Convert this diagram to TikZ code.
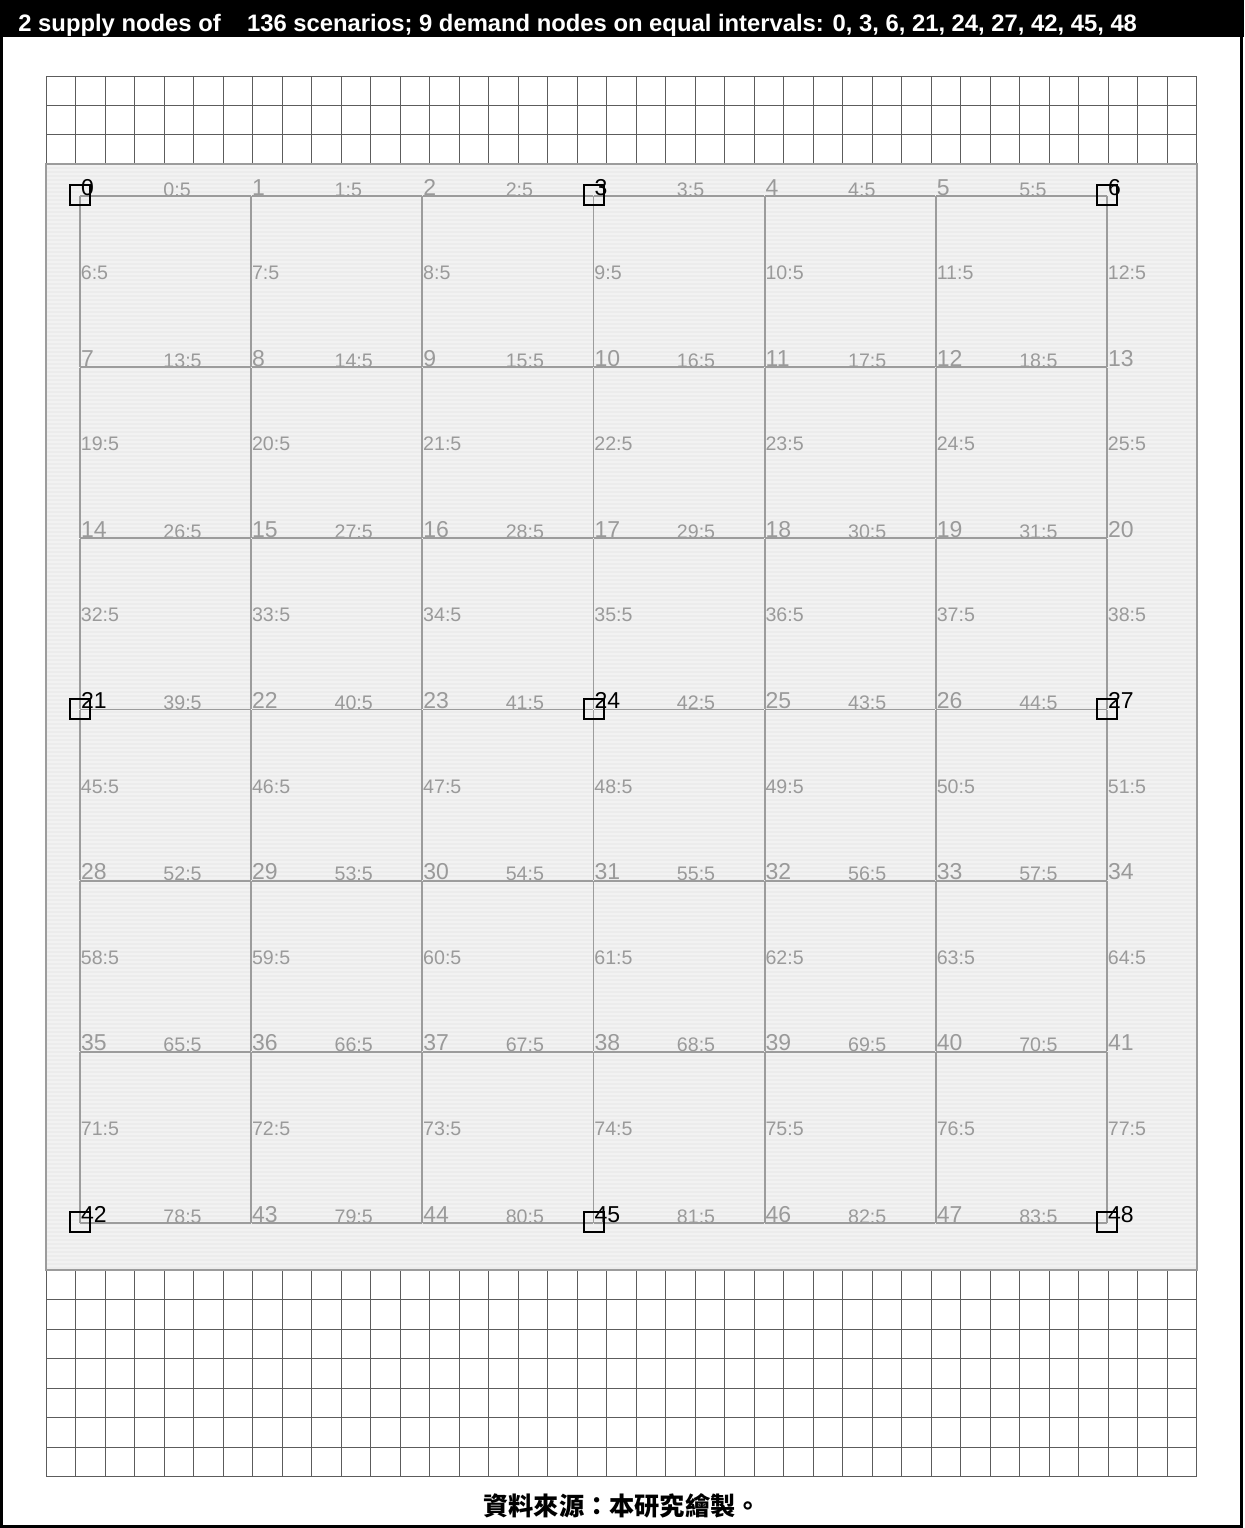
\documentclass[tikz,border=0pt]{standalone}
\usepackage{fontspec}
\setmainfont{Liberation Sans}
\newfontfamily\cjkfont{Noto Sans CJK TC}
\usepackage{tikz}
\usetikzlibrary{positioning}
\definecolor{netgray}{HTML}{9C9C9C}
\definecolor{lblgray}{HTML}{9A9A9A}
\definecolor{gridink}{HTML}{5C5C5C}
\definecolor{panelfill}{HTML}{ECECEC}
\definecolor{panelstripe}{HTML}{F2F2F2}

\begin{document}
\begin{tikzpicture}[
  x=0.5pt, y=-0.5pt,
  netpt/.style={inner sep=0pt, minimum size=0pt},
  nodenum/.style={anchor=base west, inner sep=0pt, xshift=0.3pt, yshift=0.5pt,
    font=\fontsize{11.5}{11.5}\selectfont, text=lblgray},
  demandnum/.style={nodenum, text=black},
  demandbox/.style={draw=black, line width=1pt, minimum size=10pt, inner sep=0pt},
  link/.style={draw=netgray, line width=0.9pt},
  linklbl/.style={anchor=base west, inner sep=0pt, font=\fontsize{9.8}{9.8}\selectfont, text=lblgray},
  gridline/.style={draw=gridink, line width=0.5pt},
  ]
  \useasboundingbox (0,0) rectangle (1244,1528);

  % header bar and frame
  \fill[black] (0,0) rectangle (1244,37);
  \node[anchor=base west, inner sep=0pt, text=white,
    font=\bfseries\fontsize{11.9}{11.9}\selectfont] (title) at (18,31)
    {2 supply nodes of \ \ \ 136 scenarios; 9 demand nodes on equal intervals: 0, 3, 6, 21, 24, 27, 42, 45, 48};
  \draw[line width=1.5pt] (1.5,37) -- (1.5,1526.5) -- (1241.5,1526.5) -- (1241.5,37);

  % background grid, above and below the panel
  \foreach \i in {0,...,39}
    \draw[gridline] ({46+29.51*\i},76) -- ({46+29.51*\i},164)
                    ({46+29.51*\i},1270) -- ({46+29.51*\i},1476.5);
  \foreach \j in {0,...,3}
    \draw[gridline] (46,{76+29.33*\j}) -- (1197,{76+29.33*\j});
  \foreach \j in {0,...,7}
    \draw[gridline] (46,{1270+29.5*\j}) -- (1197,{1270+29.5*\j});

  % panel
  \fill[panelfill] (46,164) rectangle (1197,1270);
  \foreach \y in {166,170,...,1268}
    \draw[panelstripe, line width=1pt] (47,\y) -- (1196,\y);
  \draw[netgray, line width=0.8pt] (46,164) rectangle (1197,1270);

  % network nodes
  \foreach \r in {0,...,6}
    \foreach \c in {0,...,6} {
      \pgfmathtruncatemacro\k{7*\r+\c}
      \node[netpt] (n\k) at ({80+171.17*\c},{196+171.17*\r}) {};
    }

  % horizontal links
  \foreach \r in {0,...,6}
    \foreach \c in {0,...,5} {
      \pgfmathtruncatemacro\a{7*\r+\c}
      \pgfmathtruncatemacro\b{\a+1}
      \pgfmathtruncatemacro\e{13*\r+\c}
      \draw[link] (n\a) -- (n\b) node[linklbl, pos=0.5, xshift=-1.5pt] {\e:5};
    }
  % vertical links
  \foreach \r in {0,...,5}
    \foreach \c in {0,...,6} {
      \pgfmathtruncatemacro\a{7*\r+\c}
      \pgfmathtruncatemacro\b{\a+7}
      \pgfmathtruncatemacro\e{13*\r+6+\c}
      \draw[link] (n\a) -- (n\b) node[linklbl, pos=0.5, yshift=1pt] {\e:5};
    }

  % node numbers, demand nodes boxed
  \foreach \r in {0,...,6}
    \foreach \c in {0,...,6} {
      \pgfmathtruncatemacro\k{7*\r+\c}
      \pgfmathtruncatemacro\isdem{and(mod(\r,3)==0, mod(\c,3)==0)}
      \ifnum\isdem=1
        \node[demandbox] (d\k) at ([yshift=0.5pt]n\k) {};
        \node[demandnum] (t\k) at (n\k) {\k};
      \else
        \node[nodenum] (t\k) at (n\k) {\k};
      \fi
    }

  \node[font=\cjkfont\bfseries\fontsize{12.6}{12.6}\selectfont] (src) at (622,1506)
    {資料來源：本研究繪製。};
\end{tikzpicture}
\end{document}
